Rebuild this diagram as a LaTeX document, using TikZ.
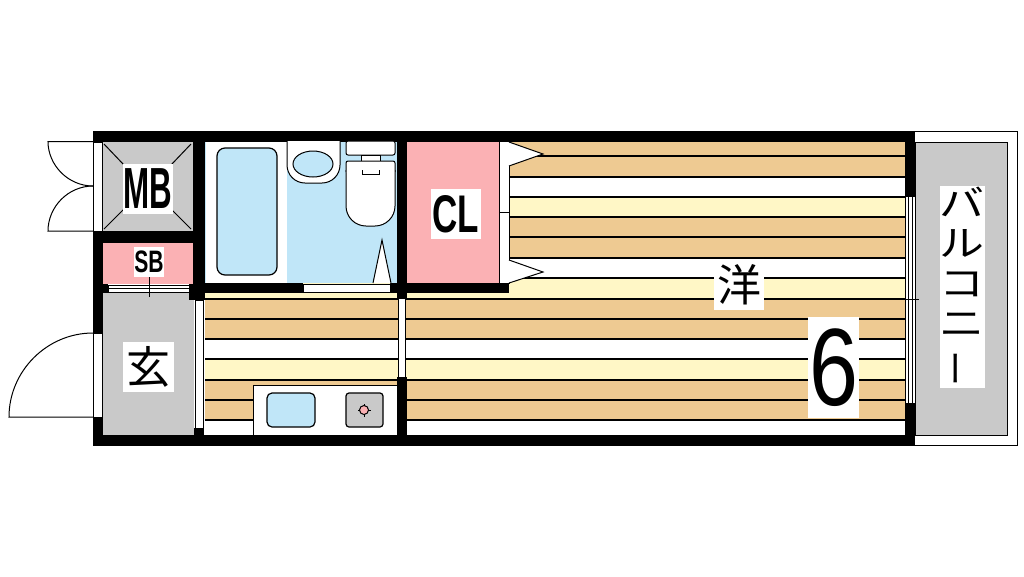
\documentclass[tikz,border=0pt]{standalone}
\usepackage{fontspec}
\setmainfont{Liberation Sans}
\newfontfamily\jpfont{Noto Sans CJK JP}
\newfontfamily\jpwide[FakeStretch=1.25]{Noto Sans CJK JP}
\definecolor{floortan}{HTML}{EECA92}
\definecolor{floorcream}{HTML}{FFF7C6}
\definecolor{roompink}{HTML}{FBB1B4}
\definecolor{bathblue}{HTML}{C0E6F8}
\definecolor{floorgrey}{HTML}{C9C9C9}
\tikzset{
    wall/.style={fill=black},
    plan/.style={draw=black, line width=1pt},
    stripeline/.style={black, line width=1.05pt},
    roomlabel/.style={fill=white, inner sep=0pt, minimum width=#1, minimum height=50pt, text=black},
}
\begin{document}
\begin{tikzpicture}[x=1pt, y=-1pt]
    \useasboundingbox (0,0) rectangle (1024,576);

    % floor
    \fill[white] (205,293) rectangle (905,435);
    \fill[white] (509,141) rectangle (905,293);
    \foreach \top/\bottom in {141/177, 217/258, 299/339, 380/420} {
        \fill[floortan] (205,\top) rectangle (905,\bottom);
    }
    \foreach \top/\bottom in {197/217, 278/299, 359/380} {
        \fill[floorcream] (205,\top) rectangle (905,\bottom);
    }
    \foreach \y in {156,177,197,217,237,258,278,299,319,339,359,380,400,420} {
        \draw[stripeline] (205,\y) -- (905,\y);
    }
    \fill[floorcream] (205,293) rectangle (397,297);
    \fill[floorcream] (407,293) rectangle (905,297);

    % rooms
    \fill[floorgrey] (103,142) rectangle (193,231);
    \fill[roompink] (103,243) rectangle (194,284);
    \fill[floorgrey] (103,293) rectangle (194,435);
    \fill[white] (205,141) rectangle (287,283);
    \fill[bathblue] (287,141) rectangle (397,283);
    \fill[roompink] (407,141) rectangle (499,283);
    \draw[plan, fill=floorgrey] (915,142) rectangle (1007,435);
    \draw[plan] (915,131) -- (1017,131) -- (1017,445) -- (915,445);
    \draw[bathblue, line width=1pt] (205.5,141) -- (205.5,283);

    % walls
    \fill[wall] (93,131) rectangle (915,141.5);
    \fill[wall] (93,435) rectangle (915,446);
    \fill[wall] (193,141) rectangle (205,300);
    \fill[wall] (93,231) rectangle (205,243);
    \fill[wall] (93,243) rectangle (103,333);
    \fill[wall] (93,417) rectangle (103,435);
    \fill[wall] (93,284) rectangle (108,293);
    \fill[wall] (189,284) rectangle (205,300);
    \fill[wall] (205,283) rectangle (303,293);
    \fill[wall] (390,283) rectangle (509,293);
    \fill[wall] (397,141) rectangle (407,298);
    \fill[wall] (194,428) rectangle (204,435);
    \fill[wall] (905,141) rectangle (915,196);
    \fill[wall] (905,403) rectangle (915,435);

    % openings
    \draw[plan, fill=white] (93.5,142) rectangle (102,231);
    \draw[plan, fill=white] (93.5,333) rectangle (102,417);
    \draw[plan, line width=0.8pt, fill=white] (195,300) rectangle (203,428);
    \draw[plan, line width=0.8pt, fill=white] (398.5,298) rectangle (405.5,377);
    \draw[plan, fill=white] (303,284) rectangle (390,292);
    \draw[plan, fill=white] (499,141) rectangle (509,283);
    \draw[plan] (499,212) -- (509,212);
    \draw[plan, fill=white] (108,285) rectangle (189,292);
    \draw[plan] (108,288.5) -- (189,288.5);
    \draw[plan, fill=white] (905,196) rectangle (915,403);
    \draw[plan] (908,196) -- (908,403);
    \draw[plan] (912,196) -- (912,403);
    \draw[black, line width=0.8pt] (901,299) -- (919,299);
    \draw[black, line width=0.8pt] (149,277) -- (149,297);

    % doors
    \draw[plan] (93,141.5) -- (48,141.5) .. controls (48,165) and (68,186) .. (93,186);
    \draw[plan] (93,231) -- (48,231) .. controls (48,207) and (68,186) .. (93,186);
    \draw[plan] (93,333) .. controls (47,333) and (9,371) .. (9,417) -- (93,417);
    \draw[plan, fill=white] (509,142) -- (543,154) -- (509,166);
    \draw[plan, fill=white] (509,260) -- (543,272) -- (509,283);
    \draw[plan, fill=white] (373,283) -- (382,240) -- (391,283);

    % MB box
    \foreach \ax/\ay/\bx/\by in {104/144/124/165, 191/144/171/165, 104/229/124/209, 191/229/171/209} {
        \draw[plan] (\ax,\ay) -- (\bx,\by);
    }

    % bath
    \draw[plan, line width=1.2pt, fill=bathblue, rounded corners=8pt] (217,148) rectangle (277,275);
    % basin
    \draw[plan, fill=white, rounded corners=18pt] (287,141) -- (287,183) -- (340,183) -- (340,141);
    \draw[plan, fill=bathblue] (313,164) ellipse[x radius=20, y radius=13];
    % toilet
    \draw[plan, fill=white, rounded corners=2pt] (346,141) rectangle (395,155);
    \draw[plan, fill=white] (361,155) rectangle (380,161);
    \draw[plan, fill=white, rounded corners=20pt] (346,170) -- (346,226) -- (395,226) -- (395,170);
    \draw[plan, fill=white, rounded corners=2pt] (346,172) -- (346,161) -- (395,161) -- (395,172);
    \fill[white] (347,168) rectangle (394,172);
    \draw[plan] (362,170) -- (362,174) -- (379,174) -- (379,170);

    % kitchen
    \draw[plan, fill=white] (253,385) rectangle (397,435);
    \draw[plan, line width=1.2pt, fill=bathblue, rounded corners=5pt] (267,393) rectangle (315,427);
    \draw[plan, line width=1.2pt, fill=floorgrey, rounded corners=3pt] (346,393) rectangle (383,427);
    \draw[plan, fill=roompink] (364,410) circle (4.5);
    \foreach \a in {0,90,180,270} {
        \draw[plan] (364,410) ++(\a:4) -- ++(\a:2.5);
    }
    \fill[wall] (397,377) rectangle (407,435);

    % labels
    \node[roomlabel=50pt] (mb) at (148,189) {\bfseries\fontsize{58}{58}\selectfont\scalebox{0.54}[1]{MB}};
    \node[roomlabel=30pt, minimum height=30pt] (sb) at (149,262) {\bfseries\fontsize{31}{31}\selectfont\scalebox{0.68}[1]{SB}};
    \node[roomlabel=50pt] (cl) at (456,214) {\bfseries\fontsize{53}{53}\selectfont\scalebox{0.66}[1]{CL}};
    \node[roomlabel=51pt] (entry) at (148,367) {\jpfont\fontsize{44}{44}\selectfont 玄};
    \node[roomlabel=50pt] (room) at (739,285) {\jpfont\fontsize{44}{44}\selectfont 洋};
    \node[roomlabel=51pt, minimum height=101pt] (six) at (833.5,367.5) {\fontsize{110}{110}\selectfont\scalebox{0.8}[1]{6}};
    \node[roomlabel=40pt, minimum height=202pt, align=center, font=\jpwide\fontsize{36}{40}\selectfont] (balcony) at (962,287) {バ\\ル\\コ\\ニ\\\rotatebox[origin=c]{90}{\jpfont ー}};
\end{tikzpicture}
\end{document}
